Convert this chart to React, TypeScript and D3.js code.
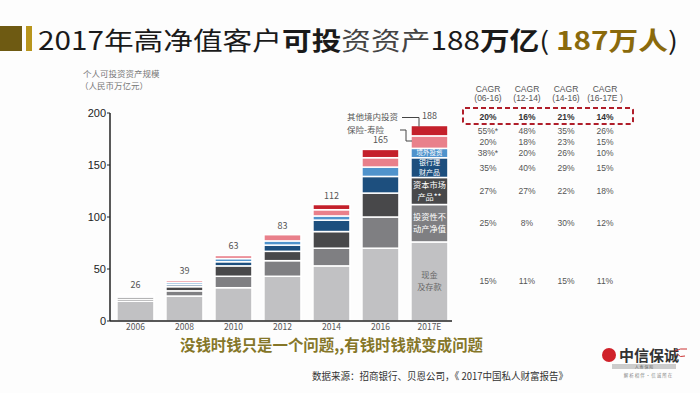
import React from "react";
import * as d3 from "d3";

const years = ["2006", "2008", "2010", "2012", "2014", "2016", "2017E"];
const totals = [26, 39, 63, 83, 112, 165, 188];
const cash = [19, 24, 32, 43, 53, 70, 76];
const property = [2, 5, 11, 15, 17, 30, 36];
const capital = [2, 4, 10, 9, 16, 23, 26];
const bank = [1, 2, 4, 6, 11, 16, 19];
const overseas = [1, 2, 3, 4, 4, 9, 9];
const insurance = [1, 2, 3, 6, 6, 9, 12];
const other = [0, 0, 0, 0, 5, 8, 10];

const keys = ["cash", "property", "capital", "bank", "overseas", "insurance", "other"];
const colors = ["#c1c1c3", "#7f7f82", "#48484a", "#1d4f7e", "#4f93cc", "#e9808b", "#c4202b"];
// labels written inside the 2017E bar
const innerLabels = [["现金", "及存款"], ["投资性不", "动产净值"], ["资本市场", "产品**"], ["银行理", "财产品"], ["境外投资"], [], []];

const cagrHeaders = ["(06-16)", "(12-14)", "(14-16)", "(16-17E )"];
const cagrTotal = ["20%", "16%", "21%", "14%"];
const cagrRows = [
  ["15%", "11%", "15%", "11%"],
  ["25%", "8%", "30%", "12%"],
  ["27%", "27%", "22%", "18%"],
  ["35%", "40%", "29%", "15%"],
  ["38%*", "20%", "26%", "10%"],
  ["20%", "18%", "23%", "15%"],
  ["55%*", "48%", "35%", "26%"],
];
const yTicks = [0, 50, 100, 150, 200];

const rows = years.map((y, i) => ({
  year: y,
  cash: cash[i],
  property: property[i],
  capital: capital[i],
  bank: bank[i],
  overseas: overseas[i],
  insurance: insurance[i],
  other: other[i],
}));

export default function App() {
  const x = d3.scaleBand().domain(years).range([109.6, 455.3]).paddingInner(0.245).paddingOuter(0.15);
  const y = d3.scaleLinear().domain([0, 200]).range([321, 113]);
  const series = d3.stack<any>().keys(keys)(rows);
  const last = years.length - 1;
  const colX = [488, 527, 566, 605];
  const font = "'Noto Sans CJK SC', 'Noto Sans', sans-serif";
  const lastCx = x(years[last])! + x.bandwidth() / 2;
  const labelFs = [8.2, 8.2, 8.2, 7, 6.5];
  const labelGap = [12, 12, 12, 10.3, 0];
  const labelShift = [0, 0, 0, 0, -0.8];

  return (
    <svg width={700} height={393} style={{ position: "absolute", left: 0, top: 0, background: "#fdfdfd" }} fontFamily={font}>
      {/* 标题 */}
      <rect x={0} y={26} width={22} height={25} fill="#6e5a12" />
      <rect x={26} y={26} width={6} height={25} fill="#b8951c" />
      <text x={38} y={50} fontSize={25} fill="#1a1a1a" textLength={640} lengthAdjust="spacingAndGlyphs">
        2017年高净值客户<tspan fontWeight="bold">可投</tspan>
        <tspan fill="#444">资资产</tspan>188<tspan fontWeight="bold">万亿</tspan>(
        <tspan fill="#8a6a0c" fontWeight="bold"> 187万人</tspan>)
      </text>

      {/* y轴标题 */}
      <g fill="#777" fontSize={8.5}>
        <text x={83} y={77}>个人可投资资产规模</text>
        <text x={80} y={89}>（人民币万亿元）</text>
      </g>

      {/* 堆叠柱 */}
      {series.map((s, si) => (
        <g key={s.key} fill={colors[si]}>
          {s.map((d, i) =>
            d[1] - d[0] > 0 ? (
              <rect
                key={i}
                x={x(years[i])}
                y={y(d[1])}
                width={x.bandwidth()}
                height={y(d[0]) - y(d[1])}
                stroke="#fff"
                strokeWidth={1.5}
              />
            ) : null
          )}
        </g>
      ))}

      {/* 2017E 柱内标签 */}
      {series.map((s, si) => {
        const d = s[last];
        const lines = innerLabels[si];
        if (!lines.length) return null;
        const cy = (y(d[0]) + y(d[1])) / 2;
        const fs = labelFs[si];
        return (
          <text key={s.key} x={lastCx} textAnchor="middle" fontSize={fs} fill={si === 0 ? "#666" : "#fff"}>
            {lines.map((l, li) => (
              <tspan key={li} x={lastCx} y={cy + fs * 0.35 + labelShift[si] + (li - (lines.length - 1) / 2) * labelGap[si]}>
                {l}
              </tspan>
            ))}
          </text>
        );
      })}

      {/* 总量标签 */}
      {years.map((yr, i) => (
        <text key={yr} x={x(yr)! + x.bandwidth() / 2} y={y(totals[i]) - 6} textAnchor="middle" fontSize={9} fill="#555">
          {totals[i]}
        </text>
      ))}

      {/* 坐标轴 */}
      <g stroke="#222" strokeWidth={1.5}>
        <line x1={110} x2={110} y1={y(200)} y2={y(0)} />
        <line x1={110} x2={452} y1={y(0)} y2={y(0)} />
        {yTicks.map((t) => (
          <line key={t} x1={107} x2={110} y1={y(t)} y2={y(t)} strokeWidth={1} />
        ))}
      </g>
      {yTicks.map((t) => (
        <text key={t} x={106} y={y(t) + 4} textAnchor="end" fontSize={11} fill="#222" fontFamily="'Liberation Sans', sans-serif">
          {t}
        </text>
      ))}
      {years.map((yr) => (
        <text key={yr} x={x(yr)! + x.bandwidth() / 2} y={330} textAnchor="middle" fontSize={8.5} fill="#555">
          {yr}
        </text>
      ))}

      {/* 注释线 */}
      <g fontSize={8.5} fill="#555">
        <text x={347} y={120}>其他境内投资</text>
        <text x={347} y={133}>保险-寿险</text>
      </g>
      <g stroke="#444" strokeWidth={1} fill="none">
        <path d={`M402,117.5H419V${y(188) + 1}`} />
        <path d={`M400,130H406V141H412`} />
      </g>

      {/* CAGR 表 */}
      <g fontSize={8.5} fill="#555" textAnchor="middle" fontFamily="'Liberation Sans', sans-serif">
        {cagrHeaders.map((h, i) => (
          <g key={h}>
            <text x={colX[i]} y={92}>CAGR</text>
            <text x={colX[i]} y={101}>{h}</text>
          </g>
        ))}
        {cagrTotal.map((v, i) => (
          <text key={i} x={colX[i]} y={119.5} fontWeight="bold" fill="#333">
            {v}
          </text>
        ))}
        {cagrRows.map((r, ri) => {
          const d = series[ri][last];
          const cy = (y(d[0]) + y(d[1])) / 2 + 3;
          return r.map((v, i) => (
            <text key={ri + "-" + i} x={colX[i]} y={cy}>
              {v}
            </text>
          ));
        })}
      </g>
      <rect x={463} y={108} width={170} height={16} rx={2} fill="none" stroke="#b01e2a" strokeWidth={2} strokeDasharray="5,3" />

      {/* 底部文字 */}
      <text x={180} y={351} fontSize={15.5} fontWeight="bold" fill="#857628" textLength={303} lengthAdjust="spacingAndGlyphs">
        没钱时钱只是一个问题,,有钱时钱就变成问题
      </text>
      <text x={312} y={380} fontSize={9.8} fill="#333" textLength={256} lengthAdjust="spacingAndGlyphs">
        数据来源：招商银行、贝恩公司，《 2017中国私人财富报告》
      </text>

      {/* 标志 */}
      <circle cx={609} cy={355} r={7} fill="#d0222a" />
      <text x={619} y={361} fontSize={15} fontWeight="bold" fill="#333">
        中信保诚
      </text>
      <path d="M675,351q5,-3 12,-2M677,354q3,4 8,2" stroke="#c33" strokeWidth={1} fill="none" />
      <rect x={612} y={364} width={64} height={5} fill="#ccc" />
      <text x={644} y={368.5} fontSize={4} fill="#666" textAnchor="middle">人 寿 保 险</text>
      <text x={648} y={377} fontSize={4.5} fill="#888" textAnchor="middle">解 析 相 伴 · 信 诚 所 在</text>
    </svg>
  );
}
